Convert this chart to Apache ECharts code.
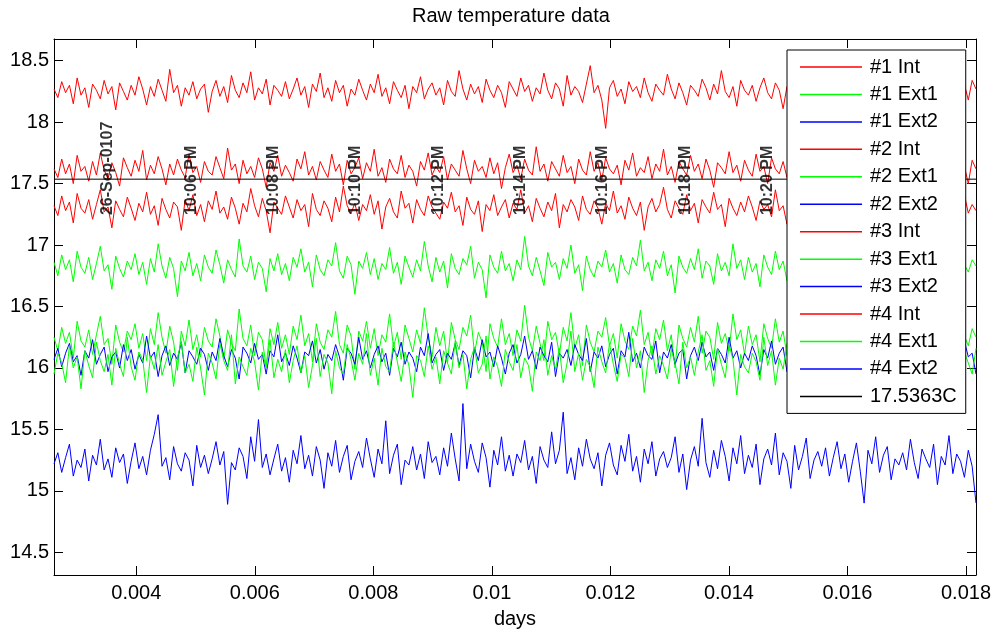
<!DOCTYPE html>
<html><head><meta charset="utf-8">
<script src="https://cdn.jsdelivr.net/npm/echarts@6/dist/echarts.min.js"></script>
<style>html,body{margin:0;padding:0;background:#fff}#c{width:995px;height:634px}</style>
</head><body><div id="c"></div>
<script>
// ---- axis ranges & ticks ----
const X_MIN = 0.002611, X_MAX = 0.018169;
const Y_MIN = 14.315, Y_MAX = 18.677;
const X_TICKS = [0.004, 0.006, 0.008, 0.01, 0.012, 0.014, 0.016, 0.018];
const Y_TICKS = [14.5, 15, 15.5, 16, 16.5, 17, 17.5, 18, 18.5];

// ---- legend / series names ----
const SERIES_NAMES = ['#1 Int','#1 Ext1','#1 Ext2','#2 Int','#2 Ext1','#2 Ext2','#3 Int','#3 Ext1','#3 Ext2','#4 Int','#4 Ext1','#4 Ext2','17.5363C'];
const SERIES_COLORS = ['#ff0000','#00ff00','#0000ff','#ff0000','#00ff00','#0000ff','#ff0000','#00ff00','#0000ff','#ff0000','#00ff00','#0000ff','#000000'];

// ---- sample times (days): first and last sample ----
const T_START = 0.002611, T_END = 0.018169;

// ---- temperatures (deg C) ----
const INT_1 = [
18.27,18.20,18.33,18.24,18.30,18.15,18.36,18.22,18.28,18.12,18.31,18.26,18.19,18.34,18.23,18.29,18.10,18.32,18.25,18.18,
18.30,18.22,18.37,18.27,18.14,18.29,18.21,18.35,18.26,18.17,18.43,18.24,18.30,18.13,18.28,18.22,18.33,18.19,18.27,18.31,
18.08,18.25,18.34,18.21,18.29,18.16,18.38,18.26,18.20,18.32,18.24,18.41,18.18,18.28,18.23,18.35,18.14,18.30,18.26,18.21,
18.33,18.19,18.27,18.36,18.22,18.29,18.12,18.31,18.25,18.40,18.20,18.28,18.17,18.34,18.24,18.30,18.13,18.27,18.22,18.35,
18.26,18.18,18.31,18.24,18.39,18.21,18.28,18.15,18.33,18.26,18.20,18.30,18.11,18.29,18.24,18.37,18.19,18.27,18.32,18.22,
18.28,18.14,18.34,18.25,18.21,18.42,18.27,18.18,18.31,18.23,18.29,18.16,18.35,18.26,18.20,18.30,18.24,18.12,18.33,18.27,
18.21,18.36,18.25,18.30,18.17,18.28,18.23,18.40,18.26,18.19,18.32,18.27,18.13,18.38,18.22,18.29,18.25,18.16,18.31,18.46,
18.24,18.30,18.18,17.95,18.28,18.34,18.21,18.27,18.15,18.33,18.25,18.29,18.20,18.36,18.24,18.17,18.31,18.26,18.22,18.39,
18.27,18.19,18.32,18.24,18.14,18.30,18.26,18.21,18.35,18.28,18.18,18.31,18.23,18.42,18.25,18.20,18.29,18.13,18.34,18.26,
18.22,18.30,18.17,18.28,18.36,18.24,18.19,18.32,18.26,18.11,18.29,18.23,18.37,18.27,18.20,18.31,18.25,18.16,18.33,18.24,
18.29,18.21,18.35,18.26,18.18,18.30,18.23,18.40,18.27,18.15,18.32,18.25,18.20,18.28,18.34,18.22,18.29,18.13,18.31,18.26,
18.20,18.33,18.24,18.29,18.16,18.35,18.27,18.21,18.30,18.12,18.28,18.24,18.36,18.19,18.47,18.23,18.31,18.18,18.34,18.27];
const EXT1_1 = [
16.86,16.75,16.92,16.80,16.88,16.70,16.95,16.82,16.77,16.90,16.72,16.85,16.99,16.79,16.84,16.64,16.91,16.81,16.74,16.87,
16.80,16.93,16.76,16.86,16.68,16.89,16.78,17.01,16.83,16.73,16.90,16.81,16.58,16.87,16.79,16.94,16.75,16.85,16.71,16.92,
16.82,16.77,16.96,16.84,16.69,16.88,16.80,16.74,17.05,16.83,16.78,16.91,16.72,16.86,16.81,16.62,16.89,16.79,16.93,16.76,
16.85,16.71,16.90,16.82,16.97,16.78,16.86,16.66,16.92,16.80,16.75,16.88,16.83,17.02,16.79,16.73,16.91,16.84,16.60,16.87,
16.81,16.94,16.76,16.89,16.72,16.85,16.80,16.98,16.77,16.86,16.68,16.91,16.82,16.74,16.88,16.79,17.03,16.83,16.70,16.90,
16.78,16.87,16.65,16.93,16.81,16.76,16.89,16.84,16.99,16.73,16.86,16.80,16.57,16.92,16.82,16.77,16.95,16.79,16.85,16.71,
16.88,16.80,17.07,16.83,16.75,16.90,16.79,16.67,16.94,16.82,16.86,16.72,16.89,16.81,17.00,16.77,16.84,16.63,16.91,16.80,
16.74,16.87,16.82,16.96,16.78,16.85,16.69,16.92,16.80,16.76,16.90,16.83,17.04,16.79,16.86,16.71,16.88,16.81,16.95,16.75,
16.84,16.61,16.91,16.82,16.77,16.89,16.80,16.97,16.73,16.87,16.83,16.68,16.93,16.79,16.86,16.75,17.01,16.81,16.88,16.72,
16.90,16.78,16.85,16.66,16.92,16.82,16.76,16.95,16.80,16.87,16.71,16.89,16.83,16.98,16.77,16.85,16.59,16.91,16.81,16.79,
16.87,16.74,16.94,16.83,16.69,16.90,16.80,16.86,17.06,16.78,16.84,16.73,16.92,16.81,16.88,16.64,16.93,16.82,16.76,16.89,
16.80,16.96,16.77,16.85,16.70,16.91,16.83,16.79,16.99,16.82,16.87,16.74,16.90,16.81,16.67,16.94,16.84,16.78,16.88,16.83];
const INT_2 = [
17.62,17.55,17.70,17.58,17.66,17.50,17.73,17.60,17.64,17.52,17.68,17.57,17.75,17.61,17.54,17.67,17.59,17.48,17.71,17.63,
17.56,17.69,17.60,17.77,17.53,17.65,17.58,17.72,17.62,17.49,17.66,17.57,17.70,17.61,17.55,17.74,17.59,17.64,17.51,17.68,
17.60,17.57,17.72,17.63,17.54,17.79,17.61,17.66,17.50,17.69,17.58,17.64,17.55,17.71,17.62,17.47,17.67,17.60,17.73,17.56,
17.65,17.59,17.52,17.70,17.62,17.76,17.57,17.64,17.53,17.68,17.61,17.55,17.74,17.60,17.66,17.49,17.69,17.58,17.63,17.71,
17.54,17.67,17.60,17.78,17.56,17.63,17.51,17.70,17.62,17.58,17.73,17.55,17.65,17.60,17.48,17.68,17.61,17.75,17.57,17.64,
17.59,17.72,17.53,17.66,17.61,17.56,17.77,17.62,17.50,17.69,17.60,17.64,17.55,17.71,17.58,17.67,17.46,17.63,17.74,17.59,
17.65,17.54,17.70,17.61,17.57,17.80,17.60,17.66,17.52,17.68,17.62,17.56,17.73,17.59,17.64,17.50,17.70,17.61,17.57,17.76,
17.60,17.67,17.53,17.71,17.62,17.58,17.65,17.49,17.69,17.61,17.75,17.56,17.63,17.59,17.72,17.54,17.66,17.60,17.78,17.57,
17.64,17.51,17.68,17.62,17.57,17.73,17.60,17.66,17.54,17.70,17.61,17.47,17.67,17.63,17.58,17.76,17.59,17.65,17.52,17.69,
17.61,17.56,17.74,17.60,17.64,17.50,17.71,17.62,17.58,17.68,17.55,17.77,17.60,17.65,17.53,17.70,17.61,17.57,17.72,17.63,
17.55,17.67,17.60,17.79,17.58,17.64,17.51,17.69,17.62,17.56,17.73,17.60,17.66,17.48,17.70,17.61,17.58,17.75,17.63,17.54,
17.68,17.60,17.72,17.57,17.65,17.52,17.70,17.62,17.59,17.76,17.61,17.55,17.67,17.60,17.73,17.56,17.64,17.50,17.69,17.62];
const EXT1_2 = [
16.25,16.14,16.33,16.20,16.29,16.08,16.38,16.22,16.17,16.31,16.11,16.27,16.42,16.19,16.24,16.03,16.35,16.21,16.13,16.30,
16.23,16.36,16.16,16.28,16.06,16.32,16.19,16.45,16.25,16.12,16.34,16.21,15.98,16.30,16.18,16.39,16.15,16.27,16.09,16.33,
16.22,16.17,16.40,16.26,16.07,16.31,16.20,16.14,16.48,16.24,16.18,16.35,16.10,16.29,16.23,16.01,16.32,16.19,16.37,16.16,
16.27,16.11,16.34,16.23,16.43,16.18,16.28,16.05,16.36,16.21,16.15,16.31,16.25,16.46,16.19,16.12,16.35,16.26,15.99,16.30,
16.22,16.38,16.16,16.32,16.10,16.27,16.21,16.44,16.17,16.29,16.07,16.35,16.24,16.13,16.31,16.20,16.49,16.25,16.09,16.33,
16.18,16.30,16.04,16.37,16.23,16.15,16.33,16.26,16.43,16.12,16.29,16.21,15.97,16.36,16.24,16.17,16.40,16.19,16.28,16.10,
16.31,16.22,16.51,16.25,16.14,16.34,16.20,16.06,16.38,16.23,16.29,16.11,16.33,16.22,16.45,16.16,16.27,16.02,16.35,16.21,
16.13,16.30,16.25,16.41,16.18,16.28,16.08,16.36,16.22,16.15,16.34,16.26,16.47,16.19,16.29,16.10,16.32,16.23,16.39,16.14,
16.27,16.00,16.35,16.24,16.17,16.33,16.21,16.42,16.12,16.30,16.25,16.07,16.37,16.20,16.28,16.14,16.44,16.23,16.31,16.11,
16.34,16.19,16.27,16.05,16.36,16.24,16.16,16.40,16.21,16.30,16.10,16.33,16.25,16.43,16.18,16.28,15.96,16.35,16.22,16.20,
16.30,16.13,16.38,16.25,16.08,16.34,16.21,16.29,16.50,16.18,16.26,16.12,16.36,16.23,16.31,16.03,16.37,16.24,16.15,16.33,
16.21,16.40,16.17,16.28,16.09,16.35,16.25,16.19,16.44,16.24,16.30,16.14,16.34,16.22,16.06,16.38,16.26,16.18,16.32,16.25];
const EXT2_2 = [
16.07,16.16,16.01,16.12,16.20,16.05,16.10,15.94,16.14,16.08,16.23,16.03,16.11,16.17,15.97,16.09,16.13,16.00,16.19,16.06,
16.15,15.99,16.11,16.04,16.26,16.08,16.13,15.93,16.10,16.18,16.02,16.12,16.07,16.21,15.96,16.14,16.09,16.03,16.16,16.11,
15.98,16.13,16.06,16.24,16.10,16.01,16.15,16.08,15.91,16.17,16.12,16.04,16.20,16.07,16.11,15.95,16.14,16.09,16.27,16.05,
16.12,16.02,16.18,16.08,15.96,16.13,16.10,16.22,16.04,16.15,15.99,16.11,16.06,16.19,16.09,15.90,16.16,16.12,16.03,16.25,
16.07,16.14,16.00,16.11,16.18,16.05,16.12,15.94,16.16,16.09,16.21,16.03,16.13,16.08,15.97,16.17,16.10,16.28,16.04,16.11,
16.15,15.98,16.12,16.07,16.20,16.02,16.14,16.10,15.92,16.16,16.06,16.23,16.09,16.13,16.01,16.18,16.08,15.95,16.12,16.19,
16.04,16.11,16.26,16.07,16.14,15.99,16.17,16.10,16.05,16.21,15.93,16.12,16.08,16.15,16.02,16.19,16.11,16.06,16.24,15.97,
16.13,16.08,16.18,16.01,16.11,16.16,15.95,16.14,16.09,16.29,16.05,16.12,16.00,16.17,16.10,16.07,16.22,15.96,16.13,16.08,
16.19,16.03,16.12,16.15,15.91,16.10,16.17,16.06,16.21,16.09,16.13,15.98,16.16,16.11,16.04,16.25,16.08,16.14,16.00,16.12,
16.06,16.18,16.10,15.94,16.15,16.08,16.22,16.03,16.12,16.17,15.97,16.13,16.09,16.27,16.05,16.11,16.16,15.92,16.14,16.07,
16.20,16.09,16.01,16.16,16.12,16.05,16.24,16.10,15.96,16.14,16.08,16.19,16.02,16.13,16.11,16.06,16.28,16.09,15.99,16.15,
16.10,16.04,16.17,16.12,15.93,16.16,16.08,16.21,16.05,16.13,16.10,15.97,16.18,16.07,16.14,16.02,16.22,16.09,16.12,15.95];
const INT_3 = [
17.32,17.24,17.40,17.28,17.35,17.18,17.42,17.30,17.26,17.37,17.21,17.33,17.45,17.27,17.31,17.14,17.36,17.29,17.23,17.39,
17.30,17.20,17.34,17.27,17.43,17.25,17.32,17.16,17.38,17.29,17.22,17.35,17.31,17.12,17.37,17.28,17.41,17.24,17.33,17.19,
17.36,17.29,17.44,17.26,17.31,17.21,17.39,17.30,17.17,17.34,17.27,17.46,17.32,17.23,17.38,17.28,17.10,17.35,17.30,17.25,
17.40,17.31,17.22,17.37,17.28,17.33,17.15,17.42,17.29,17.24,17.36,17.30,17.19,17.39,17.27,17.48,17.32,17.26,17.34,17.20,
17.33,17.28,17.41,17.25,17.36,17.13,17.31,17.38,17.27,17.22,17.44,17.30,17.34,17.18,17.37,17.29,17.24,17.40,17.31,17.26,
17.21,17.35,17.30,17.43,17.27,17.32,17.16,17.39,17.29,17.25,17.36,17.11,17.33,17.28,17.41,17.24,17.31,17.37,17.22,17.34,
17.29,17.45,17.26,17.32,17.19,17.38,17.30,17.23,17.35,17.28,17.42,17.14,17.33,17.27,17.37,17.31,17.20,17.40,17.29,17.25,
17.36,17.30,17.17,17.34,17.28,17.44,17.26,17.32,17.21,17.39,17.30,17.24,17.35,17.12,17.31,17.38,17.27,17.33,17.47,17.29,
17.22,17.36,17.30,17.25,17.41,17.28,17.34,17.18,17.37,17.31,17.26,17.43,17.29,17.33,17.15,17.38,17.30,17.24,17.35,17.27,
17.40,17.31,17.20,17.36,17.29,17.33,17.23,17.45,17.28,17.32,17.17,17.37,17.30,17.26,17.41,17.29,17.34,17.13,17.36,17.31,
17.25,17.38,17.30,17.22,17.35,17.28,17.42,17.27,17.33,17.19,17.39,17.30,17.24,17.36,17.31,17.46,17.26,17.32,17.21,17.37,
17.29,17.34,17.16,17.40,17.31,17.27,17.36,17.23,17.43,17.30,17.25,17.38,17.29,17.18,17.35,17.32,17.41,17.26,17.33,17.28];
const EXT1_3 = [
15.95,16.12,16.04,15.88,16.18,16.00,16.09,15.83,16.14,16.02,15.92,16.21,16.06,15.97,16.11,15.86,16.16,16.03,15.93,16.25,
16.01,15.90,16.13,16.07,15.80,16.10,15.99,16.19,15.94,16.05,16.15,15.85,16.08,16.22,15.96,16.03,15.89,16.17,16.00,15.78,
16.12,16.04,15.91,16.20,16.06,15.98,16.27,15.87,16.09,16.01,15.94,16.16,16.05,15.82,16.13,16.00,16.23,15.92,16.07,15.97,
16.15,15.88,16.06,16.18,15.96,16.10,15.84,16.02,16.24,15.93,16.11,16.04,15.79,16.14,16.00,15.95,16.19,16.07,15.90,16.12,
16.03,16.28,15.94,16.08,15.86,16.16,16.01,15.97,16.21,16.05,15.89,16.13,16.02,15.76,16.10,16.06,15.93,16.18,15.99,16.09,
15.87,16.14,16.04,15.95,16.22,16.00,16.11,15.83,16.07,16.17,15.96,16.03,16.26,15.91,16.09,16.01,15.85,16.15,16.05,15.98,
16.19,15.92,16.08,16.02,15.81,16.13,16.06,16.23,15.94,16.10,15.99,16.16,15.88,16.04,16.30,15.97,16.12,15.90,16.07,16.01,
15.84,16.17,16.05,15.96,16.20,16.03,15.89,16.11,16.08,15.93,16.24,16.00,16.14,15.80,16.06,16.18,15.95,16.10,16.02,15.91,
16.15,16.04,15.87,16.21,16.00,16.09,15.94,16.13,16.27,15.98,16.06,15.85,16.16,16.03,15.92,16.19,16.07,15.78,16.11,16.01,
15.96,16.12,16.05,15.90,16.25,16.02,16.14,15.86,16.08,15.99,16.20,16.04,15.93,16.16,15.82,16.10,16.06,15.97,16.22,16.00,
16.09,15.88,16.17,16.03,15.95,16.13,16.29,15.91,16.06,16.01,15.84,16.15,16.07,15.98,16.21,16.04,15.89,16.11,16.02,15.94,
16.18,16.00,15.86,16.12,16.05,15.92,16.23,16.08,15.97,16.14,16.02,15.81,16.10,16.06,16.19,15.90,16.13,16.04,15.95,16.16];
const EXT2_3 = [
15.22,15.31,15.15,15.27,15.38,15.12,15.25,15.19,15.34,15.08,15.29,15.21,15.42,15.17,15.26,15.11,15.35,15.23,15.30,15.06,
15.24,15.39,15.18,15.28,15.13,15.33,15.46,15.62,15.20,15.27,15.09,15.36,15.22,15.16,15.31,15.25,15.04,15.37,15.19,15.29,
15.14,15.26,15.40,15.21,15.32,14.89,15.23,15.17,15.35,15.28,15.10,15.44,15.24,15.58,15.19,15.30,15.13,15.26,15.38,15.16,
15.27,15.07,15.33,15.22,15.45,15.18,15.29,15.12,15.36,15.25,15.02,15.31,15.20,15.41,15.15,15.28,15.37,15.09,15.24,15.32,
15.19,15.43,15.26,15.11,15.34,15.22,15.57,15.14,15.29,15.38,15.05,15.25,15.21,15.36,15.17,15.30,15.10,15.40,15.23,15.28,
15.13,15.35,15.20,15.47,15.26,15.08,15.71,15.18,15.38,15.24,15.15,15.39,15.27,15.03,15.33,15.21,15.44,15.16,15.29,15.12,
15.30,15.23,15.41,15.17,15.28,15.06,15.36,15.25,15.19,15.48,15.22,15.33,15.64,15.14,15.27,15.09,15.35,15.20,15.42,15.26,
15.18,15.31,15.04,15.29,15.39,15.21,15.13,15.37,15.24,15.46,15.16,15.28,15.07,15.34,15.22,15.40,15.12,15.26,15.32,15.19,
15.27,15.44,15.15,15.30,15.01,15.25,15.36,15.20,15.59,15.23,15.11,15.33,15.18,15.41,15.28,15.08,15.35,15.22,15.45,15.14,
15.29,15.19,15.38,15.05,15.26,15.34,15.21,15.47,15.13,15.31,15.24,15.02,15.37,15.17,15.28,15.43,15.10,15.25,15.32,15.20,
15.35,15.12,15.27,15.40,15.18,15.30,15.07,15.24,15.39,15.16,14.90,15.33,15.22,15.44,15.15,15.29,15.36,15.09,15.26,15.21,
15.31,15.17,15.42,15.23,15.10,15.34,15.26,15.19,15.38,15.05,15.28,15.21,15.45,15.14,15.30,15.24,15.11,15.33,15.20,14.90];
const REF_TEMP = 17.5363;

// ---- time annotations ----
const TIME_LABELS = ['26-Sep-0107','10:06 PM','10:08 PM','10:10 PM','10:12 PM','10:14 PM','10:16 PM','10:18 PM','10:20 PM'];
const TIME_LABEL_DAYS = [0.003522,0.004935,0.006324,0.007713,0.009102,0.010491,0.011880,0.013269,0.014658];
const TIME_LABEL_TEMP = 17.24;

const SERIES_DATA = [INT_1, EXT1_1, [], INT_2, EXT1_2, EXT2_2, INT_3, EXT1_3, EXT2_3, [], [], []];

function toPairs(arr) {
  const n = arr.length;
  return arr.map((v, i) => [T_START + (T_END - T_START) * i / (n - 1), v]);
}

const FONT = 'Liberation Sans, Arial, Helvetica, sans-serif';
const series = SERIES_DATA.map((arr, i) => ({
  name: SERIES_NAMES[i], type: 'line', data: toPairs(arr), showSymbol: false, symbol: 'none',
  color: SERIES_COLORS[i], lineStyle: { width: 1, color: SERIES_COLORS[i] }, silent: true
}));
series.push({
  name: SERIES_NAMES[12], type: 'line', data: [[T_START, REF_TEMP], [T_END, REF_TEMP]],
  showSymbol: false, symbol: 'none', color: '#000', lineStyle: { width: 1, color: '#000' }, silent: true
});
series.push({
  name: 'time labels', type: 'scatter', silent: true, symbolSize: 1,
  itemStyle: { color: 'rgba(0,0,0,0)' },
  data: TIME_LABEL_DAYS.map((d, i) => ({ value: [d, TIME_LABEL_TEMP], label: { formatter: TIME_LABELS[i] } })),
  label: { show: true, position: [0, 0], rotate: 90, align: 'left', verticalAlign: 'middle',
           fontSize: 16, fontWeight: 'bold', color: '#000', fontFamily: FONT },
  z: 5
});

const axisLine = { show: true, onZero: false, lineStyle: { color: '#000', width: 1 } };
const option = {
  animation: false,
  backgroundColor: '#fff',
  textStyle: { fontFamily: FONT },
  title: { text: 'Raw temperature data', left: 412, top: 6, padding: 0,
           textStyle: { fontSize: 20, fontWeight: 'normal', color: '#000', fontFamily: FONT } },
  grid: { left: 54, right: 19, top: 39, bottom: 52, containLabel: false },
  legend: {
    data: SERIES_NAMES, orient: 'vertical', left: 787, top: 50, icon: 'rect',
    padding: [7, 9, 7, 13], itemWidth: 62, itemHeight: 1.5, itemGap: 7.45,
    backgroundColor: '#fff', borderColor: '#000', borderWidth: 1, borderRadius: 0,
    selectedMode: false,
    textStyle: { fontSize: 20, color: '#000', lineHeight: 20, fontFamily: FONT, padding: [0, 0, 0, 3] }
  },
  xAxis: [
    { type: 'value', min: X_MIN, max: X_MAX, position: 'bottom', name: 'days', nameLocation: 'middle', nameGap: 34,
      nameTextStyle: { fontSize: 20, color: '#000', fontFamily: FONT },
      axisLine: axisLine, splitLine: { show: false },
      axisTick: { show: true, inside: true, length: 9, customValues: X_TICKS, lineStyle: { color: '#000' } },
      axisLabel: { show: true, customValues: X_TICKS, formatter: v => String(+v.toFixed(4)), fontSize: 20, color: '#000', margin: 8, fontFamily: FONT } },
    { type: 'value', min: X_MIN, max: X_MAX, position: 'top',
      axisLine: axisLine, splitLine: { show: false },
      axisTick: { show: true, inside: true, length: 9, customValues: X_TICKS, lineStyle: { color: '#000' } },
      axisLabel: { show: false } }
  ],
  yAxis: [
    { type: 'value', min: Y_MIN, max: Y_MAX, position: 'left',
      axisLine: axisLine, splitLine: { show: false },
      axisTick: { show: true, inside: true, length: 9, customValues: Y_TICKS, lineStyle: { color: '#000' } },
      axisLabel: { show: true, customValues: Y_TICKS, formatter: v => String(+v.toFixed(2)), fontSize: 20, color: '#000', margin: 5, fontFamily: FONT } },
    { type: 'value', min: Y_MIN, max: Y_MAX, position: 'right',
      axisLine: axisLine, splitLine: { show: false },
      axisTick: { show: true, inside: true, length: 9, customValues: Y_TICKS, lineStyle: { color: '#000' } },
      axisLabel: { show: false } }
  ],
  series: series
};
const chart = echarts.init(document.getElementById('c'), null, { renderer: 'canvas' });
chart.setOption(option);
</script>
</body></html>
